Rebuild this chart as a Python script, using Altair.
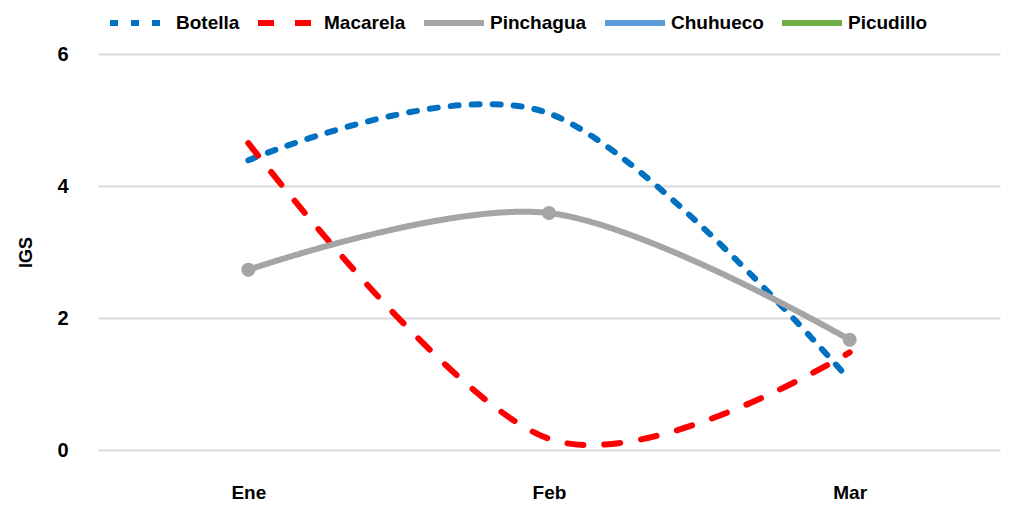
import altair as alt
import pandas as pd

months = ["Ene", "Feb", "Mar"]
series_names = ["Botella", "Macarela", "Pinchagua", "Chuhueco", "Picudillo"]
botella = [4.39, 5.10, 1.06]
macarela = [4.65, 0.17, 1.48]
pinchagua = [2.73, 3.59, 1.67]
colors = ["#0070C0", "#FF0000", "#A5A5A5", "#5B9BD5", "#70AD47"]
dashes = [[8, 13], [16, 21], [1, 0], [1, 0], [1, 0]]
widths = [6, 6, 8, 5, 5]

rows = []
for name, vals in [("Botella", botella), ("Macarela", macarela), ("Pinchagua", pinchagua)]:
    for m, v in zip(months, vals):
        rows.append({"Mes": m, "IGS": v, "Serie": name})
df = pd.DataFrame(rows)

FONT = "Liberation Sans"


def legend():
    return alt.Legend(title=None, orient="none", direction="horizontal",
                      legendX=9, legendY=-64, symbolType="stroke",
                      symbolSize=3600, symbolStrokeWidth=6,
                      labelFontSize=19, labelFont=FONT,
                      labelFontWeight="bold", labelColor="#000000",
                      columnPadding=6, labelOffset=3)


x_enc = alt.X("Mes:N", sort=months, scale=alt.Scale(type="point", padding=0.5),
              axis=alt.Axis(title=None, labelAngle=0, ticks=False, domain=False, grid=False,
                            labelPadding=33, labelFontSize=19, labelFont=FONT,
                            labelFontWeight="bold", labelColor="#000000"))
y_enc = alt.Y("IGS:Q", scale=alt.Scale(domain=[0, 6]),
              axis=alt.Axis(title="IGS", values=[0, 2, 4, 6], format="d", ticks=False,
                            domain=False, gridColor="#D9D9D9", gridWidth=2, labelPadding=30,
                            labelFontSize=20, labelFont=FONT, labelFontWeight="bold",
                            labelColor="#000000", titleFontSize=18, titleFont=FONT,
                            titleFontWeight="bold", titleColor="#000000", titleX=-63,
                            titlePadding=0))

lines = alt.Chart(df).mark_line(interpolate="cardinal", strokeCap="round").encode(
    x=x_enc, y=y_enc,
    color=alt.Color("Serie:N", scale=alt.Scale(domain=series_names, range=colors), legend=legend()),
    strokeDash=alt.StrokeDash("Serie:N", scale=alt.Scale(domain=series_names, range=dashes),
                              legend=legend()),
    strokeWidth=alt.StrokeWidth("Serie:N", scale=alt.Scale(domain=series_names, range=widths),
                                legend=None),
)

pts = alt.Chart(df[df["Serie"] == "Pinchagua"]).mark_point(
    filled=True, size=200, opacity=1, color="#A5A5A5", shape="circle"
).encode(x=alt.X("Mes:N", sort=months), y="IGS:Q")

chart = alt.layer(lines, pts).properties(
    width=902, height=396,
    background="#FFFFFF",
    autosize=alt.AutoSizeParams(type="none"),
    padding={"left": 90, "top": 46, "right": 2, "bottom": 56},
).configure_view(strokeWidth=0, stroke="transparent")

chart.save("out.html", embed_options={"renderer": "svg", "actions": False})
